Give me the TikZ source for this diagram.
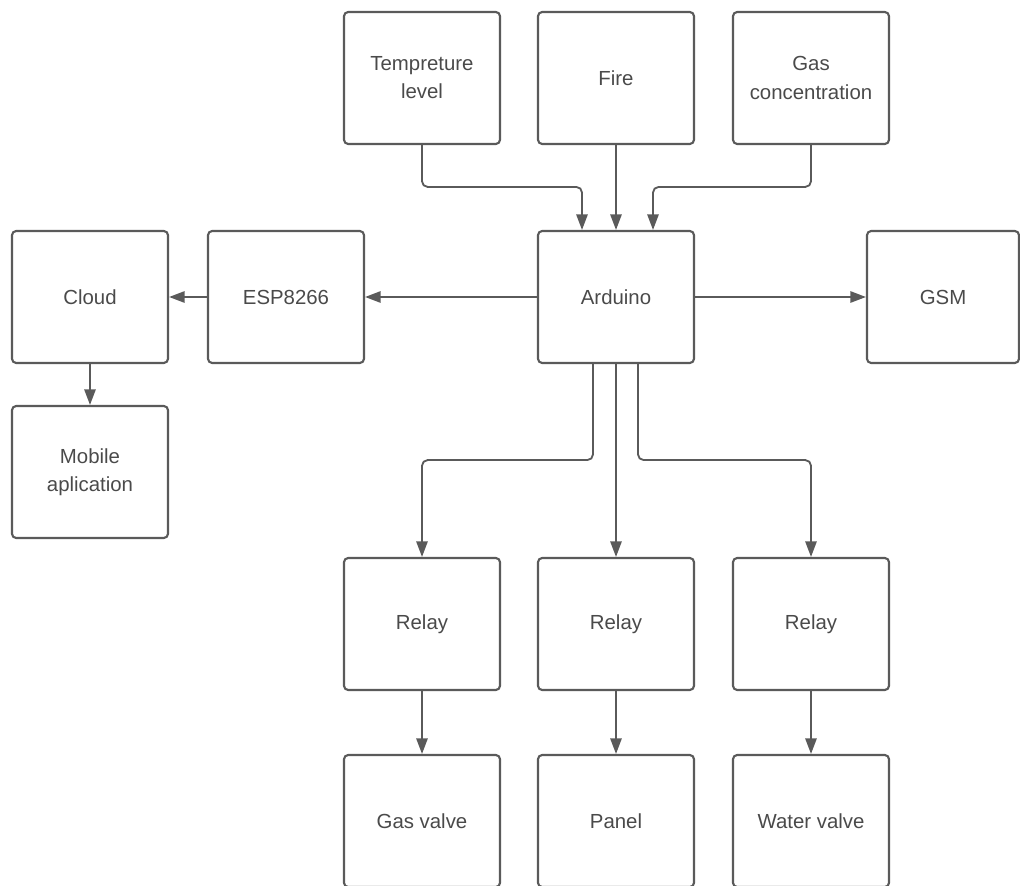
\documentclass[tikz,border=0pt]{standalone}
\usepackage{fontspec}
\setmainfont{Liberation Sans}
\usetikzlibrary{calc,arrows.meta}
\definecolor{ln}{HTML}{5A5A5A}
\definecolor{tx}{HTML}{4A4A4A}
\tikzset{
  blk/.style={draw=ln, line width=1.5pt, rounded corners=3pt, minimum width=3.9cm, minimum height=3.3cm,
    align=center, text=tx, font=\fontsize{14.5}{20}\selectfont, inner sep=0pt},
  conn/.style={draw=ln, line width=1.3pt, rounded corners=4pt, -{Triangle[length=11pt,width=8pt]}}
}
\begin{document}
\begin{tikzpicture}[x=0.025cm,y=-0.025cm]
\useasboundingbox (0,0) rectangle (1020,886);
\node[blk] (temp) at (422,78) {Tempreture\\level};
\node[blk] (fire) at (616,78) {Fire};
\node[blk] (gas) at (811,78) {Gas\\concentration};
\node[blk] (cloud) at (90,297) {Cloud};
\node[blk] (esp) at (286,297) {ESP8266};
\node[blk] (ard) at (616,297) {Arduino};
\node[blk, minimum width=3.8cm] (gsm) at (943,297) {GSM};
\node[blk] (mob) at (90,472) {Mobile\\aplication};
\node[blk] (r1) at (422,624) {Relay};
\node[blk] (r2) at (616,624) {Relay};
\node[blk] (r3) at (811,624) {Relay};
\node[blk] (gv) at (422,821) {Gas valve};
\node[blk] (pn) at (616,821) {Panel};
\node[blk] (wv) at (811,821) {Water valve};

\draw[conn] (temp.south) |- ($(ard.north)+(-34,-43)$) -- ($(ard.north)+(-34,0)$);
\draw[conn] (fire.south) -- (ard.north);
\draw[conn] (gas.south) |- ($(ard.north)+(37,-43)$) -- ($(ard.north)+(37,0)$);
\draw[conn] (ard.west) -- (esp.east);
\draw[conn] (esp.west) -- (cloud.east);
\draw[conn] (cloud.south) -- (mob.north);
\draw[conn] (ard.east) -- (gsm.west);
\draw[conn] ($(ard.south)+(-23,0)$) -- ($(ard.south)+(-23,96)$) -| (r1.north);
\draw[conn] (ard.south) -- (r2.north);
\draw[conn] ($(ard.south)+(22,0)$) -- ($(ard.south)+(22,96)$) -| (r3.north);
\draw[conn] (r1.south) -- (gv.north);
\draw[conn] (r2.south) -- (pn.north);
\draw[conn] (r3.south) -- (wv.north);
\end{tikzpicture}
\end{document}
